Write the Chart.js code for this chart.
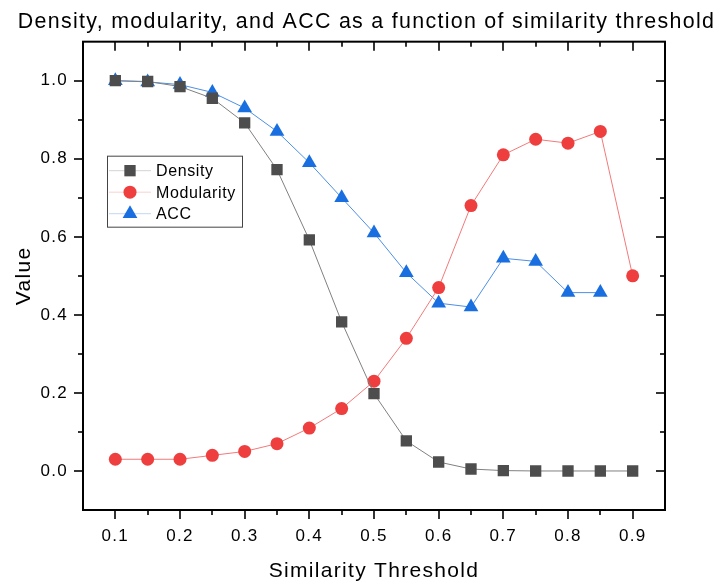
<!DOCTYPE html>
<html>
<head>
<meta charset="utf-8">
<script src="https://cdn.jsdelivr.net/npm/chart.js@4"></script>
<style>
html,body{margin:0;padding:0;background:#fff}
#wrap{width:719px;height:584px;position:relative}
</style>
</head>
<body>
<div id="wrap"><canvas id="c" width="719" height="584"></canvas></div>
<script>
// data
const thresholds=[0.1,0.15,0.2,0.25,0.3,0.35,0.4,0.45,0.5,0.55,0.6,0.65,0.7,0.75,0.8,0.85,0.9];
const density=[1.0,0.998,0.985,0.955,0.892,0.772,0.592,0.382,0.198,0.077,0.023,0.005,0.001,0,0,0,0];
const modularity=[0.03,0.03,0.03,0.04,0.05,0.07,0.11,0.16,0.23,0.34,0.47,0.68,0.81,0.85,0.84,0.87,0.5];
const acc=[1.0,0.997,0.99,0.97,0.93,0.87,0.79,0.70,0.61,0.508,0.43,0.42,0.545,0.537,0.457,0.457];
const xTicks=[0.1,0.2,0.3,0.4,0.5,0.6,0.7,0.8,0.9];
const xMinor=[0.15,0.25,0.35,0.45,0.55,0.65,0.75,0.85];
const yTicks=[0,0.2,0.4,0.6,0.8,1.0];
const yMinor=[0.1,0.3,0.5,0.7,0.9];

const FONT='"Liberation Sans", Arial, sans-serif';
const pts=arr=>arr.map((v,i)=>({x:thresholds[i],y:v}));

// the source font is set a bit wider than Arial, so space the letters out
const spacing={id:'spacing',beforeDraw(ch){ch.ctx.letterSpacing='1.3px';}};

// frame + origin style ticks (out on left/bottom, in on top/right)
const frame={id:'frame',afterDraw(ch){
  const c=ch.ctx,a=ch.chartArea,xs=ch.scales.x,ys=ch.scales.y;
  c.save();c.strokeStyle='#000';c.lineWidth=2;
  c.strokeRect(a.left,a.top,a.right-a.left,a.bottom-a.top);
  c.lineWidth=1.6;
  const tick=(x1,y1,x2,y2)=>{c.beginPath();c.moveTo(x1,y1);c.lineTo(x2,y2);c.stroke();};
  xTicks.forEach(v=>{const p=Math.round(xs.getPixelForValue(v));tick(p,a.bottom,p,a.bottom+9);tick(p,a.top,p,a.top+9);});
  xMinor.forEach(v=>{const p=Math.round(xs.getPixelForValue(v));tick(p,a.bottom,p,a.bottom+5);tick(p,a.top,p,a.top+5);});
  yTicks.forEach(v=>{const p=Math.round(ys.getPixelForValue(v));tick(a.left-9,p,a.left,p);tick(a.right-9,p,a.right,p);});
  yMinor.forEach(v=>{const p=Math.round(ys.getPixelForValue(v));tick(a.left-5,p,a.left,p);tick(a.right-5,p,a.right,p);});
  c.restore();
}};

// legend box inside the plot
const boxLegend={id:'boxLegend',afterDraw(ch){
  const c=ch.ctx,a=ch.chartArea;
  const bx=a.left+24,by=a.top+114,bw=135,bh=71;
  c.save();
  c.letterSpacing='0.6px';
  c.fillStyle='#fff';c.fillRect(bx,by,bw,bh);
  c.strokeStyle='#444';c.lineWidth=1;c.strokeRect(bx+0.5,by+0.5,bw,bh);
  c.font='16px '+FONT;c.textBaseline='middle';
  ch.data.datasets.forEach((ds,i)=>{
    const y=by+15+i*21.5;
    c.strokeStyle=ds.borderColor;c.globalAlpha=0.35;c.lineWidth=1;
    c.beginPath();c.moveTo(bx+2,y);c.lineTo(bx+44,y);c.stroke();c.globalAlpha=1;
    c.fillStyle=ds.pointBackgroundColor;c.strokeStyle=ds.pointBackgroundColor;
    Chart.helpers.drawPoint(c,{pointStyle:ds.pointStyle,radius:ds.pointRadius,borderWidth:0},bx+23,y);
    c.fillStyle='#000';c.fillText(ds.label,bx+49,y+1);
  });
  c.restore();
}};

new Chart(document.getElementById('c'),{type:'line',
  data:{datasets:[
    {label:'Density',data:pts(density),borderColor:'#808080',borderWidth:1,pointStyle:'rect',pointRadius:8,pointHoverRadius:8,pointBackgroundColor:'#4d4d4d',pointBorderColor:'#4d4d4d',pointBorderWidth:0},
    {label:'Modularity',data:pts(modularity),borderColor:'#f27a7a',borderWidth:1,pointStyle:'circle',pointRadius:6.5,pointHoverRadius:6.5,pointBackgroundColor:'#ef3e3e',pointBorderColor:'#ef3e3e',pointBorderWidth:0},
    {label:'ACC',data:pts(acc),borderColor:'#4d8fe6',borderWidth:1,pointStyle:'triangle',pointRadius:8.5,pointHoverRadius:8.5,pointBackgroundColor:'#1a6fe0',pointBorderColor:'#1a6fe0',pointBorderWidth:0}
  ]},
  options:{responsive:false,animation:false,
    layout:{padding:{left:14,right:0,top:0,bottom:0}},
    plugins:{legend:{display:false},tooltip:{enabled:false},
      title:{display:true,text:'Density, modularity, and ACC as a function of similarity threshold',color:'#000',font:{family:FONT,size:21.4,weight:'normal'},padding:{top:9,bottom:7}}},
    scales:{
      x:{type:'linear',min:0.05,max:0.95,
        afterBuildTicks:s=>{s.ticks=xTicks.map(v=>({value:v}));},
        afterFit:s=>{s.height=74;},
        grid:{display:false,drawTicks:false},border:{display:false},
        ticks:{padding:16,color:'#000',font:{family:FONT,size:17},callback:v=>v.toFixed(1)},
        title:{display:true,text:'Similarity Threshold',color:'#000',font:{family:FONT,size:21},padding:{top:0,bottom:0}}},
      y:{type:'linear',min:-0.1,max:1.1,
        afterBuildTicks:s=>{s.ticks=yTicks.map(v=>({value:v}));},
        afterFit:s=>{s.width=69;},
        grid:{display:false,drawTicks:false},border:{display:false},
        ticks:{padding:15,color:'#000',font:{family:FONT,size:17},callback:v=>v.toFixed(1)},
        title:{display:true,text:'Value',color:'#000',font:{family:FONT,size:21,lineHeight:1},padding:{top:0,bottom:0}}},
      y2:{type:'linear',position:'right',min:-0.1,max:1.1,
        afterFit:s=>{s.width=54;},
        grid:{display:false,drawTicks:false},border:{display:false},ticks:{display:false}}
    }
  },
  plugins:[spacing,frame,boxLegend]
});
</script>
</body>
</html>
